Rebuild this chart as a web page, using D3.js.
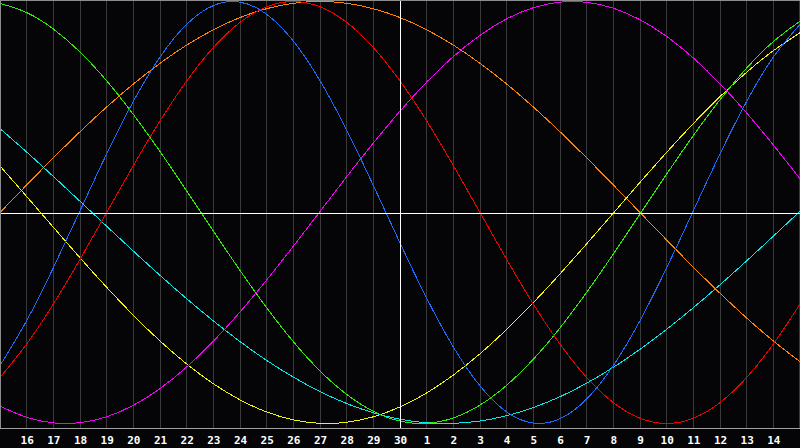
<!DOCTYPE html>
<html>
<head>
<meta charset="utf-8">
<script src="https://cdn.jsdelivr.net/npm/d3@7"></script>
<style>
  html, body { margin: 0; padding: 0; background: #050508; }
  svg { display: block; }
</style>
</head>
<body>
<svg id="chart" width="800" height="448"></svg>
<script>
// Day labels for positions 0..30 (first and last are the chart edges)
const dayLabels = ["15","16","17","18","19","20","21","22","23","24","25","26","27","28","29","30",
                   "1","2","3","4","5","6","7","8","9","10","11","12","13","14","15"];
const todayIndex = 15;

// Series values (-1..1) read at each day position 0..30
const cycle23 = [-0.7253,-0.5126,-0.2619,0.0082,0.2777,0.5266,0.7364,0.8915,0.9807,0.9971,0.9395,0.8124,0.6249,0.3909,0.1281,-0.1442,-0.4058,-0.6374,-0.8216,-0.9450,-0.9982,-0.9774,-0.8841,-0.7253,-0.5126,-0.2619,0.0082,0.2777,0.5266,0.7364,0.8915];
const cycle28 = [-0.7818,-0.6235,-0.4339,-0.2225,0,0.2225,0.4339,0.6235,0.7818,0.9010,0.9749,1.0,0.9749,0.9010,0.7818,0.6235,0.4339,0.2225,0,-0.2225,-0.4339,-0.6235,-0.7818,-0.9010,-0.9749,-1.0,-0.9749,-0.9010,-0.7818,-0.6235,-0.4339];
const cycle33 = [0.9909,0.9475,0.8697,0.7606,0.6241,0.4648,0.2891,0.1026,-0.0875,-0.2745,-0.4515,-0.6123,-0.7508,-0.8622,-0.9425,-0.9887,-0.9992,-0.9735,-0.9127,-0.8190,-0.6956,-0.5469,-0.3786,-0.1966,-0.0075,0.1819,0.3647,0.5343,0.6846,0.8101,0.9064];
const cycle38 = [-0.9178,-0.9706,-0.9970,-0.9962,-0.9682,-0.9137,-0.8345,-0.7324,-0.6103,-0.4717,-0.3199,-0.1597,0.0049,0.1695,0.3294,0.4804,0.6182,0.7391,0.8399,0.9177,0.9706,0.9970,0.9962,0.9682,0.9137,0.8345,0.7324,0.6103,0.4717,0.3199,0.1597];
const cycle43 = [0.2204,0.0760,-0.0699,-0.2146,-0.3545,-0.4868,-0.6088,-0.7178,-0.8116,-0.8879,-0.9455,-0.9828,-0.9992,-0.9943,-0.9682,-0.9215,-0.8552,-0.7705,-0.6695,-0.5542,-0.4272,-0.2909,-0.1485,-0.0030,0.1426,0.2852,0.4218,0.5493,0.6651,0.7667,0.8520];
const cycle48 = [0,0.1305,0.2588,0.3827,0.5,0.6088,0.7071,0.7934,0.8660,0.9239,0.9659,0.9914,1.0,0.9914,0.9659,0.9239,0.8660,0.7934,0.7071,0.6088,0.5,0.3827,0.2588,0.1305,0,-0.1305,-0.2588,-0.3827,-0.5,-0.6088,-0.7071];
const cycle53 = [0.3976,0.2864,0.1709,0.0532,-0.0652,-0.1827,-0.2979,-0.4086,-0.5137,-0.6116,-0.7009,-0.7803,-0.8487,-0.9054,-0.9492,-0.9798,-0.9966,-0.9994,-0.9881,-0.9630,-0.9244,-0.8731,-0.8089,-0.7338,-0.6483,-0.5536,-0.4512,-0.3425,-0.2290,-0.1123,0.0061];

const seriesList = [cycle53, cycle48, cycle43, cycle38, cycle33, cycle28, cycle23];
const seriesColors = ["#00ecec", "#ff8400", "#f4f400", "#f400f4", "#2cf000", "#f40000", "#1a6cff"];

const W = 800, H = 448;
const svg = d3.select("#chart");
const x = d3.scaleLinear().domain([0, dayLabels.length - 1]).range([0, W]);
const y = d3.scaleLinear().domain([-1, 1]).range([423.5, 1.5]);
const axisY = 428.5;

svg.append("rect").attr("width", W).attr("height", H).attr("fill", "#050508");

// vertical day grid
const gridIdx = d3.range(1, dayLabels.length).filter(i => i !== todayIndex);
svg.append("g").selectAll("line").data(gridIdx).join("line")
  .attr("x1", i => Math.min(Math.floor(x(i)), W - 1) + 0.5)
  .attr("x2", i => Math.min(Math.floor(x(i)), W - 1) + 0.5)
  .attr("y1", 0).attr("y2", axisY)
  .attr("stroke", "#3a3a3a").attr("stroke-width", 1)
  .attr("shape-rendering", "crispEdges");

// curves
const line = d3.line().x((d, i) => x(i)).y(d => y(d)).curve(d3.curveNatural);
svg.append("g").selectAll("path").data(seriesList).join("path")
  .attr("d", d => line(d))
  .attr("fill", "none")
  .attr("stroke", (d, i) => seriesColors[i])
  .attr("stroke-width", 1)
  .attr("shape-rendering", "crispEdges");

// zero line and today line
svg.append("line").attr("x1", 0).attr("x2", W).attr("y1", 213.5).attr("y2", 213.5)
  .attr("stroke", "#ffffff").attr("stroke-width", 1).attr("shape-rendering", "crispEdges");
svg.append("line").attr("x1", Math.floor(x(todayIndex)) + 0.5).attr("x2", Math.floor(x(todayIndex)) + 0.5)
  .attr("y1", 0).attr("y2", axisY)
  .attr("stroke", "#ffffff").attr("stroke-width", 1).attr("shape-rendering", "crispEdges");

// borders
svg.append("line").attr("x1", 0).attr("x2", W).attr("y1", 0.5).attr("y2", 0.5)
  .attr("stroke", "#8c8c8c").attr("shape-rendering", "crispEdges");
svg.append("line").attr("x1", 0.5).attr("x2", 0.5).attr("y1", 0).attr("y2", axisY)
  .attr("stroke", "#8c8c8c").attr("shape-rendering", "crispEdges");
svg.append("line").attr("x1", 0).attr("x2", W).attr("y1", axisY).attr("y2", axisY)
  .attr("stroke", "#a0a0a0").attr("stroke-width", 1).attr("shape-rendering", "crispEdges");

// day labels
const labelIdx = d3.range(1, dayLabels.length - 1);
svg.append("g").selectAll("text").data(labelIdx).join("text")
  .attr("x", i => x(i) + 0.5)
  .attr("y", 443.5)
  .attr("text-anchor", "middle")
  .attr("fill", "#ffffff")
  .attr("font-family", "'DejaVu Sans Mono', monospace")
  .attr("font-weight", "bold")
  .attr("font-size", "11px")
  .text(i => dayLabels[i]);
</script>
</body>
</html>
